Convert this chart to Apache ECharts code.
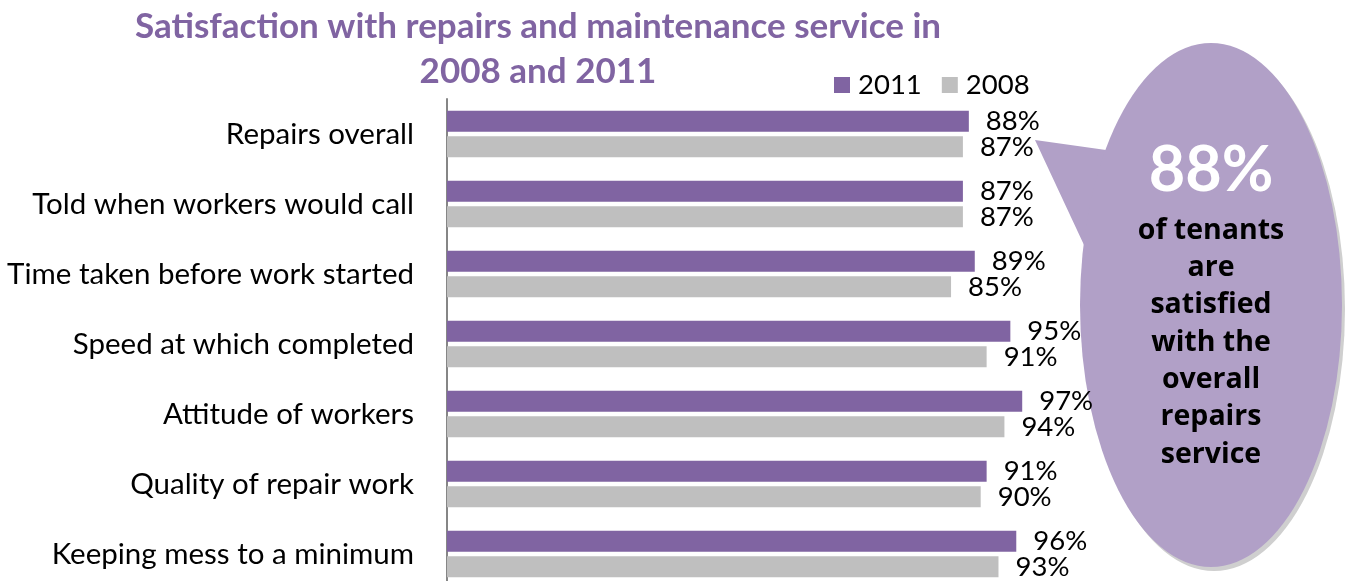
<!DOCTYPE html>
<html><head><meta charset="utf-8">
<script src="https://cdn.jsdelivr.net/npm/echarts@6/dist/echarts.min.js"></script>
<style>html,body{margin:0;padding:0;background:#fff}#c{width:1348px;height:581px}</style>
</head><body><div id="c"></div>
<script>
var categories = ['Repairs overall','Told when workers would call','Time taken before work started','Speed at which completed','Attitude of workers','Quality of repair work','Keeping mess to a minimum'];
var values2011 = [88, 87, 89, 95, 97, 91, 96];
var values2008 = [87, 87, 85, 91, 94, 90, 93];
var seriesNames = ['2011', '2008'];
var titleText = 'Satisfaction with repairs and maintenance service in\n2008 and 2011';
var calloutBig = '88%';
var calloutText = 'of tenants\nare\nsatisfied\nwith the\noverall\nrepairs\nservice';

var purple = '#8064a2', grey = '#bfbfbf', bubble = '#b1a0c7';
var chart = echarts.init(document.getElementById('c'));
var cx = 1211, cy = 305, rx = 131, ry = 262;
var tail = [[1035,140],[1106,150],[1084,245]];
function shifted(p, d){ return p.map(function(q){return [q[0]+d, q[1]+d];}); }
chart.setOption({
  animation: false,
  title: {
    text: titleText, left: 533, top: -1, textAlign: 'center',
    textStyle: {fontFamily: 'Lato', fontWeight: 'bold', fontSize: 35, color: purple, lineHeight: 45}
  },
  legend: {
    data: seriesNames, left: 829, top: 66, icon: 'rect', itemWidth: 16, itemHeight: 16, itemGap: 20,
    textStyle: {fontFamily: 'Lato', fontSize: 27.5, color: '#000', padding: [0, 0, 0, 3]}
  },
  grid: {left: 447, top: 99, width: 593, height: 490, outerBoundsMode: 'none', containLabel: false},
  xAxis: {type: 'value', min: 0, max: 100, show: false},
  yAxis: {
    type: 'category', data: categories, inverse: true,
    axisLine: {lineStyle: {color: '#868686', width: 2}}, axisTick: {show: false},
    axisLabel: {fontFamily: 'Lato', fontSize: 29.5, color: '#000', margin: 33}
  },
  series: [
    {name: seriesNames[0], type: 'bar', data: values2011, barWidth: 21, barGap: '22%', z: 5,
     itemStyle: {color: purple},
     label: {show: true, position: 'right', distance: 17, formatter: '{c}%', fontFamily: 'Lato', fontSize: 27.5, color: '#000'}},
    {name: seriesNames[1], type: 'bar', data: values2008, barWidth: 21, z: 5,
     itemStyle: {color: grey},
     label: {show: true, position: 'right', distance: 17, formatter: '{c}%', fontFamily: 'Lato', fontSize: 27.5, color: '#000'}}
  ],
  graphic: [
    {type: 'polygon', shape: {points: shifted(tail, 3)}, style: {fill: '#c8c8c8'}, z: 0},
    {type: 'circle', x: cx + 3, y: cy + 4, scaleX: rx / ry, shape: {cx: 0, cy: 0, r: ry}, style: {fill: '#cfcfcf'}, z: 0},
    {type: 'polygon', shape: {points: tail}, style: {fill: bubble}, z: 1},
    {type: 'circle', x: cx, y: cy, scaleX: rx / ry, shape: {cx: 0, cy: 0, r: ry}, style: {fill: bubble}, z: 1},
    {type: 'text', x: cx, y: 171, z: 12, style: {text: calloutBig, align: 'center', verticalAlign: 'middle', fill: '#fff', fontFamily: 'Lato', fontWeight: 'bold', fontSize: 63}},
    {type: 'text', x: cx, y: 212, z: 12, style: {text: calloutText, align: 'center', verticalAlign: 'top', fill: '#000', fontFamily: 'Open Sans', fontWeight: 'bold', fontSize: 28.5, lineHeight: 37.3}}
  ]
});
</script></body></html>
